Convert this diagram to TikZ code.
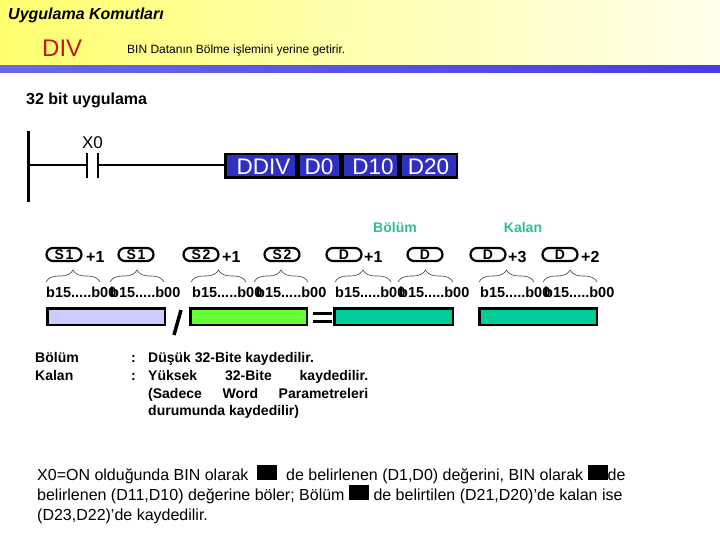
\documentclass[tikz,border=0pt]{standalone}
\usepackage{fontspec}
\setmainfont{Liberation Sans}
\usetikzlibrary{decorations.pathreplacing}
\definecolor{hy0}{RGB}{255,255,0}
\definecolor{hy1}{RGB}{255,255,110}
\definecolor{hy2}{RGB}{255,255,175}
\definecolor{hy3}{RGB}{255,255,235}
\definecolor{bb0}{RGB}{125,125,232}
\definecolor{bb1}{RGB}{50,40,230}
\definecolor{divred}{RGB}{200,20,20}
\definecolor{ddblue}{RGB}{48,48,192}
\definecolor{tealtxt}{RGB}{45,190,150}
\definecolor{lav}{RGB}{204,204,255}
\definecolor{lgreen}{RGB}{102,255,51}
\definecolor{tealbar}{RGB}{0,204,153}
\pgfdeclarehorizontalshading{hdrshade}{100bp}{color(0bp)=(hy0); color(25bp)=(hy1); color(50bp)=(hy2); color(75bp)=(hy3); color(88bp)=(white); color(100bp)=(white)}
\pgfdeclarehorizontalshading{barshade}{100bp}{color(0bp)=(bb0); color(100bp)=(bb1)}
\newcommand{\fs}[1]{\fontsize{#1}{#1}\selectfont}
\newcommand{\blk}{\rule{20pt}{15pt}}
\tikzset{
  txt/.style={inner sep=0pt, anchor=base west},
  cell/.style={draw=black, line width=2.5pt, fill=ddblue, text=white, minimum height=23.5pt, inner sep=0pt, font=\fs{22.5}},
  pill/.style={draw=black, line width=2.2pt, rounded corners=6.5pt, minimum width=35pt, minimum height=13pt, inner sep=0pt, fill=white, font=\bfseries\fs{14}},
  plus/.style={txt, font=\bfseries\fs{16}},
  brc/.style={decorate, decoration={brace, amplitude=12pt}, line width=0.6pt, draw=black!75},
  blab/.style={txt, font=\bfseries\fs{14.5}},
  bar/.style={draw=black, line width=2.5pt, minimum height=16.5pt, inner sep=0pt},
  desc/.style={txt, font=\bfseries\fs{14}},
  para/.style={txt, font=\fs{16}},
}
\begin{document}
\begin{tikzpicture}[x=1pt,y=-1pt]
\useasboundingbox (0,0) rectangle (720,540);
\shade[shading=hdrshade] (0,0) rectangle (720,65.5);
\shade[shading=barshade] (0,65.5) rectangle (720,72.5);
\node[txt, font=\bfseries\itshape\fs{16}] (title) at (8,20) {Uygulama Komutları};
\node[txt, text=divred, font=\fs{24}] (div) at (42,57) {DIV};
\node[txt, font=\fs{12}] (divdesc) at (127,54) {BIN Datanın Bölme işlemini yerine getirir.};
\node[txt, font=\bfseries\fs{16}] (sub) at (26,105) {32 bit uygulama};
% ladder
\coordinate (railtop) at (28.5,131);
\coordinate (railbot) at (28.5,202);
\coordinate (railmid) at (28.5,165);
\coordinate (c1t) at (87,153);
\coordinate (c1b) at (87,178);
\coordinate (c2t) at (98,153);
\coordinate (c2b) at (98,178);
\draw[line width=3pt] (railtop) -- (railbot);
\draw[line width=2pt] (c1t) -- (c1b);
\draw[line width=2pt] (c2t) -- (c2b);
\node[txt, anchor=base, font=\fs{17}] (x0) at (92.5,149) {X0};
\node[cell, minimum width=70.5pt] (cddiv) at (260.5,166) {};
\node[cell, minimum width=41.5pt] (cd0) at (319,166) {};
\node[cell, minimum width=55.5pt] (cd10) at (370,166) {};
\node[cell, minimum width=56.5pt] (cd20) at (428.5,166) {};
\node[txt, anchor=base, text=white, font=\fs{22.5}] at (263.5,175) {DDIV};
\node[txt, anchor=base, text=white, font=\fs{22.5}] at (319,175) {D0};
\node[txt, anchor=base, text=white, font=\fs{22.5}] at (373,175) {D10};
\node[txt, anchor=base, text=white, font=\fs{22.5}] at (428.5,175) {D20};
\draw[line width=2pt] (railmid) -- (railmid -| c1t);
\draw[line width=2pt] (railmid -| c2t) -- (railmid -| cddiv.west);
% labels
\node[txt, anchor=base, text=tealtxt, font=\bfseries\fs{14}] (lbolum) at (395,233) {Bölüm};
\node[txt, anchor=base, text=tealtxt, font=\bfseries\fs{14}] (lkalan) at (523,233) {Kalan};
\node[pill] (p1) at (64,254.5) {S\kern1.5pt1};
\node[plus] at (86,262) {+1};
\node[pill] (p2) at (136,254.5) {S\kern1.5pt1};
\node[pill] (p3) at (201,254.5) {S\kern1.5pt2};
\node[plus] at (222,262) {+1};
\node[pill] (p4) at (282,254.5) {S\kern1.5pt2};
\node[pill] (p5) at (344,254.5) {D};
\node[plus] at (364,262) {+1};
\node[pill] (p6) at (425,254.5) {D};
\node[pill] (p7) at (488,254.5) {D};
\node[plus] at (508,262) {+3};
\node[pill] (p8) at (560,254.5) {D};
\node[plus] at (581,262) {+2};
% braces
\foreach \a/\b in {46/100,110/164,191/246,254/308,335/391,398/453,479/534,543/597}
  \draw[brc] (\a,282) -- (\b,282);
\foreach \a in {46,110,192,256,335,399,480,544}
  \node[blab] at (\a,297) {b15.....b00};
% bars
\node[bar, fill=lav, minimum width=117.5pt] (bar1) at (106,316.5) {};
\node[bar, fill=lgreen, minimum width=116.5pt] (bar2) at (248.5,316.5) {};
\node[bar, fill=tealbar, minimum width=118.5pt] (bar3) at (393.5,316.5) {};
\node[bar, fill=tealbar, minimum width=117.5pt] (bar4) at (538,316.5) {};
\coordinate (sl1) at (174,335);
\coordinate (sl2) at (181,310);
\draw[line width=3.5pt] (sl1) -- (sl2);
\coordinate (eq1) at (313,313.5);
\coordinate (eq2) at (332,313.5);
\coordinate (eq3) at (313,321.5);
\coordinate (eq4) at (332,321.5);
\draw[line width=3.5pt] (eq1) -- (eq2);
\draw[line width=3.5pt] (eq3) -- (eq4);
% description
\node[desc] at (35,362) {Bölüm};
\node[desc] at (35,380) {Kalan};
\node[desc] at (131,362) {:};
\node[desc] at (131,380) {:};
\node[desc] at (148,362) {Düşük 32-Bite kaydedilir.};
\node[desc] at (148,380) {\hbox to 220pt{Yüksek\hfill 32-Bite\hfill kaydedilir.}};
\node[desc] at (148,398) {\hbox to 220pt{(Sadece\hfill Word\hfill Parametreleri}};
\node[desc] at (148,415) {durumunda kaydedilir)};
% paragraph
\node[para] at (37,480) {X0=ON olduğunda BIN olarak \ \blk\ \ de belirlenen (D1,D0) değerini, BIN olarak \blk de};
\node[para] at (37,500) {belirlenen (D11,D10) değerine böler; Bölüm \blk\ de belirtilen (D21,D20)'de kalan ise};
\node[para] at (37,520) {(D23,D22)'de kaydedilir.};
\end{tikzpicture}
\end{document}
